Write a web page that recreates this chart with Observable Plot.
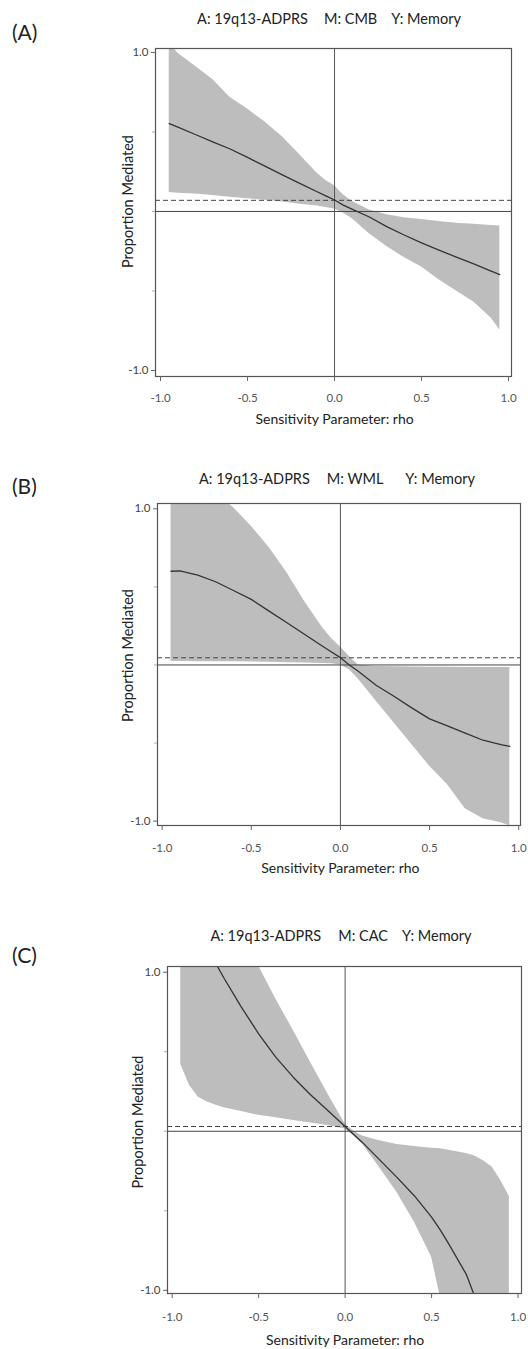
<!DOCTYPE html>
<html><head><meta charset="utf-8">
<script src="https://cdn.jsdelivr.net/npm/d3@7"></script>
<script src="https://cdn.jsdelivr.net/npm/@observablehq/plot@0.6"></script>
<style>
body{margin:0;background:#fff;}
#root{position:relative;width:528px;height:1349px;overflow:hidden;font-family:Lato,"Open Sans",sans-serif;background:#fff;}
#root svg{position:absolute;left:0;}
.tag{position:absolute;left:12px;font-size:21px;color:#222;line-height:22px;}
.ttl{position:absolute;display:flex;justify-content:center;width:400px;font-size:14.5px;color:#222;line-height:16px;white-space:pre;}
</style></head><body><div id="root"></div>
<script>
// ---- shared labels / ticks ----
const xTicks = [-1, -0.5, 0, 0.5, 1];
const yTicks = [-1, 1];
const yMinorTicks = [-0.5, 0, 0.5];
const xLabel = "Sensitivity Parameter: rho";
const yLabel = "Proportion Mediated";

// ---- Panel A: M = CMB ----
const titleA = ["A: 19q13-ADPRS", "M: CMB", "Y: Memory"];
const rhoA = [-0.95,-0.9,-0.8,-0.7,-0.6,-0.5,-0.4,-0.3,-0.2,-0.1,-0.05,0,0.05,0.1,0.2,0.3,0.4,0.5,0.6,0.7,0.8,0.9,0.95];
const estA = [0.553,0.53,0.484,0.438,0.393,0.34,0.285,0.23,0.177,0.124,0.098,0.072,0.04,0.015,-0.035,-0.095,-0.148,-0.198,-0.243,-0.287,-0.33,-0.375,-0.397];
const hiA  = [1.06,0.995,0.913,0.83,0.717,0.645,0.563,0.47,0.356,0.24,0.195,0.162,0.105,0.065,0.01,-0.02,-0.04,-0.051,-0.063,-0.074,-0.081,-0.088,-0.091];
const loA  = [0.12,0.115,0.11,0.10,0.09,0.08,0.07,0.06,0.045,0.035,0.025,0.015,-0.01,-0.045,-0.14,-0.22,-0.29,-0.35,-0.43,-0.50,-0.57,-0.67,-0.745];
const refA = 0.07;

// ---- Panel B: M = WML ----
const titleB = ["A: 19q13-ADPRS", "M: WML", "Y: Memory"];
const rhoB = [-0.95,-0.9,-0.8,-0.7,-0.6,-0.5,-0.4,-0.3,-0.2,-0.1,-0.05,0,0.05,0.1,0.2,0.3,0.4,0.5,0.6,0.7,0.8,0.9,0.95];
const estB = [0.60,0.602,0.575,0.533,0.477,0.42,0.345,0.27,0.195,0.12,0.083,0.047,0.0,-0.04,-0.13,-0.2,-0.275,-0.345,-0.39,-0.437,-0.482,-0.51,-0.521];
const hiB  = [1.1,1.1,1.1,1.1,1.008,0.888,0.753,0.59,0.405,0.238,0.17,0.115,0.055,0.0,-0.01,-0.012,-0.013,-0.014,-0.015,-0.016,-0.016,-0.017,-0.017];
const loB  = [0.023,0.022,0.021,0.02,0.02,0.019,0.017,0.015,0.013,0.01,0.008,0.0,-0.03,-0.09,-0.23,-0.37,-0.51,-0.648,-0.765,-0.92,-0.984,-1.01,-1.03];
const refB = 0.046;

// ---- Panel C: M = CAC ----
const titleC = ["A: 19q13-ADPRS", "M: CAC", "Y: Memory"];
const rhoC = [-0.95,-0.9,-0.85,-0.8,-0.75,-0.7,-0.6,-0.5,-0.4,-0.3,-0.2,-0.1,-0.05,0,0.05,0.1,0.2,0.3,0.4,0.5,0.55,0.6,0.7,0.75,0.8,0.85,0.9,0.95];
const estC = [null,null,null,null,1.06,0.962,0.781,0.613,0.465,0.34,0.23,0.131,0.08,0.03,-0.02,-0.07,-0.18,-0.29,-0.405,-0.54,-0.62,-0.71,-0.898,-1.04,null,null,null,null];
const hiC  = [1.1,1.1,1.1,1.1,1.1,1.1,1.1,1.04,0.83,0.635,0.434,0.236,0.14,0.047,0.0,-0.03,-0.06,-0.083,-0.095,-0.106,-0.11,-0.12,-0.14,-0.155,-0.185,-0.225,-0.31,-0.41];
const loC  = [0.42,0.29,0.215,0.185,0.165,0.148,0.125,0.1,0.085,0.068,0.052,0.036,0.026,0.015,-0.03,-0.08,-0.23,-0.385,-0.57,-0.79,-1.04,-1.1,-1.1,-1.1,-1.1,-1.1,-1.1,-1.1];
const refC = 0.03;

// ---- layout (positions only) ----
const panels = [
  {tag:"(A)", tagTop:21, title:titleA, gaps:[16,14], tcx:329, tTop:11,
   rho:rhoA, est:estA, hi:hiA, lo:loA, ref:refA,
   top:0, h:430, mt:48, mb:54, ml:155, mr:17, xd:[-1.029,1.017], yd:[-1.038,1.025],
   xp:12, xdy:43, ydx:-27, ydy:-11},
  {tag:"(B)", tagTop:475, title:titleB, gaps:[17,22], tcx:337, tTop:471,
   rho:rhoB, est:estB, hi:hiB, lo:loB, ref:refB,
   top:455, h:423, mt:48, mb:53, ml:157, mr:8, xd:[-1.026,1.01], yd:[-1.028,1.034],
   xp:13, xdy:43, ydx:-29, ydy:-9},
  {tag:"(C)", tagTop:944, title:titleC, gaps:[17,14], tcx:341, tTop:928,
   rho:rhoC, est:estC, hi:hiC, lo:loC, ref:refC,
   top:918, h:430, mt:48, mb:55, ml:167, mr:7, xd:[-1.027,1.02], yd:[-1.02,1.036],
   xp:14, xdy:47, ydx:-29, ydy:-8}
];

const root = document.getElementById("root");
const fmt = d => d.toFixed(1);

for (const p of panels) {
  const data = p.rho.map((r, i) => ({rho: r, est: p.est[i], hi: p.hi[i], lo: p.lo[i]}));
  const chart = Plot.plot({
    width: 528, height: p.h,
    marginTop: p.mt, marginBottom: p.mb, marginLeft: p.ml, marginRight: p.mr,
    x: {domain: p.xd}, y: {domain: p.yd},
    style: {fontFamily: "Lato, 'Open Sans', sans-serif", fontSize: "11px", color: "#444", background: "transparent", overflow: "visible"},
    marks: [
      Plot.areaY(data, {x: "rho", y1: "lo", y2: "hi", fill: "#bdbdbd", clip: true}),
      Plot.ruleY([0], {stroke: "#444", strokeWidth: 1}),
      Plot.ruleY([p.ref], {stroke: "#444", strokeWidth: 1, strokeDasharray: "5,3"}),
      Plot.ruleX([0], {stroke: "#555", strokeWidth: 1}),
      Plot.line(data, {x: "rho", y: "est", stroke: "#333", strokeWidth: 1.3, clip: true}),
      Plot.frame({stroke: "#555", strokeWidth: 1.2}),
      Plot.axisX(xTicks, {tickSize: 5, tickPadding: p.xp, tickFormat: fmt, label: null, stroke: "#666", fill: "#555", fontSize: 11.5}),
      Plot.axisY(yTicks, {tickSize: 4, tickPadding: 3, tickFormat: fmt, label: null, stroke: "#666", fill: "#444", fontSize: 11.5}),
      Plot.axisY(yMinorTicks, {tickSize: 3, tickFormat: () => "", label: null, stroke: "#aaa"}),
      Plot.text([xLabel], {x: () => 0, frameAnchor: "bottom", dy: p.xdy, text: d => d, fontSize: 14, fill: "#222", textAnchor: "middle", lineAnchor: "middle"}),
      Plot.text([yLabel], {frameAnchor: "left", dx: p.ydx, dy: p.ydy, rotate: -90, text: d => d, fontSize: 14.5, fill: "#222", textAnchor: "middle", lineAnchor: "middle"})
    ]
  });
  chart.style.top = p.top + "px";
  root.appendChild(chart);

  const tag = document.createElement("div");
  tag.className = "tag";
  tag.style.top = p.tagTop + "px";
  tag.textContent = p.tag;
  root.appendChild(tag);

  const t = document.createElement("div");
  t.className = "ttl";
  t.style.left = (p.tcx - 200) + "px";
  t.style.top = p.tTop + "px";
  p.title.forEach((s, i) => {
    const sp = document.createElement("span");
    sp.textContent = s;
    if (i > 0) sp.style.marginLeft = p.gaps[i - 1] + "px";
    t.appendChild(sp);
  });
  root.appendChild(t);
}
</script>
</body></html>
